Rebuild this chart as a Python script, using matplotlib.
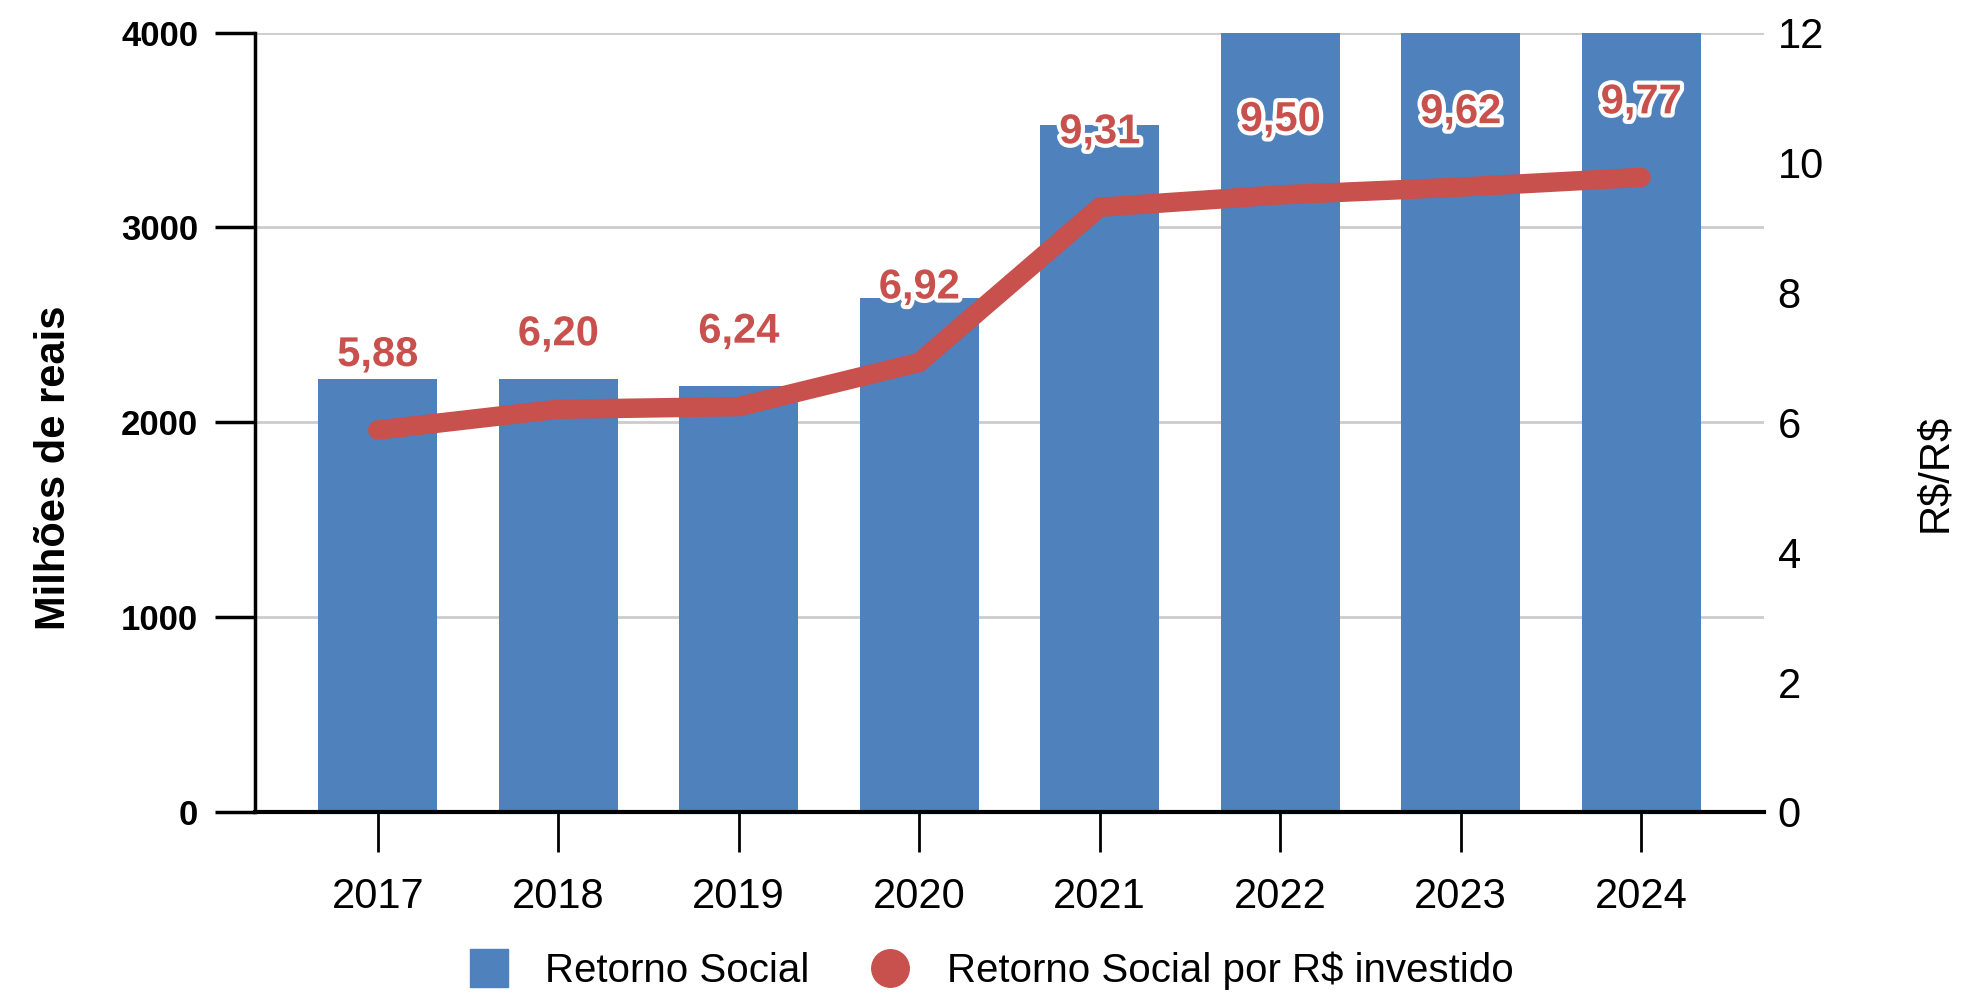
import matplotlib.pyplot as plt
import matplotlib.patheffects as pe
from matplotlib.lines import Line2D

# data
anos = ['2017', '2018', '2019', '2020', '2021', '2022', '2023', '2024']
retorno_social = [2222, 2222, 2188, 2640, 3525, 4300, 4500, 4700]   # milhoes de reais (2022-2024 above the axis top)
retorno_por_real = [5.88, 6.20, 6.24, 6.92, 9.31, 9.50, 9.62, 9.77]
rotulos = ['5,88', '6,20', '6,24', '6,92', '9,31', '9,50', '9,62', '9,77']

azul = '#4F81BD'
vermelho = '#C8504D'

plt.rcParams['font.family'] = ['Liberation Sans', 'DejaVu Sans']

fig = plt.figure(figsize=(19.62, 9.98), dpi=100)
ax = fig.add_axes([0.130, 0.1864, 0.769, 0.781])
x = list(range(len(anos)))

# bars on the left axis
ax.bar(x, retorno_social, width=0.66, color=azul, zorder=2)
ax.set_ylim(0, 4000)
ax.set_xlim(-0.68, 7.68)
ax.set_yticks([0, 1000, 2000, 3000, 4000])
ax.set_xticks(x)
ax.set_xticklabels(anos)
ax.set_axisbelow(True)
ax.grid(axis='y', color='#cccccc', linewidth=2)

for lado in ['top', 'right']:
    ax.spines[lado].set_visible(False)
ax.spines['left'].set_linewidth(2.5)
ax.spines['bottom'].set_linewidth(3)
ax.spines['bottom'].set_zorder(3)

ax.tick_params(axis='y', length=29, width=2.5, pad=12, labelsize=25)
ax.tick_params(axis='x', length=29, width=2, pad=18, labelsize=30)
for t in ax.get_yticklabels():
    t.set_fontweight('bold')

ax.set_ylabel('Milhões de reais', fontsize=30, fontweight='bold')
ax.yaxis.set_label_coords(-0.12, 0.441)

# line on the right axis
ax2 = ax.twinx()
ax2.plot(x, retorno_por_real, color=vermelho, linewidth=14,
         solid_capstyle='round', solid_joinstyle='round', zorder=3)
ax2.set_ylim(0, 12)
ax2.set_yticks([0, 2, 4, 6, 8, 10, 12])
ax2.tick_params(axis='y', length=0, pad=10, labelsize=30)
for lado in ['top', 'right', 'left', 'bottom']:
    ax2.spines[lado].set_visible(False)
ax2.set_ylabel(r'R\$/R\$', fontsize=30)
ax2.yaxis.set_label_coords(1.10, 0.435)

# value labels above each point
for xi, yi, rot in zip(x, retorno_por_real, rotulos):
    ax2.annotate(rot, (xi, yi), xytext=(0, 54), textcoords='offset points',
                 ha='center', va='center', fontsize=30, fontweight='bold',
                 color=vermelho,
                 path_effects=[pe.withStroke(linewidth=6, foreground='white')])

# legend at the bottom
handles = [
    Line2D([], [], marker='s', linestyle='none', markersize=27,
           markerfacecolor=azul, markeredgecolor=azul),
    Line2D([], [], marker='o', linestyle='none', markersize=27,
           markerfacecolor=vermelho, markeredgecolor=vermelho),
]
fig.legend(handles, ['Retorno Social', r'Retorno Social por R\$ investido'],
           loc='center', bbox_to_anchor=(0.5, 0.027), ncol=2, frameon=False,
           fontsize=29, handletextpad=0.4, columnspacing=1.0)

fig.savefig('out.png', dpi=100)
